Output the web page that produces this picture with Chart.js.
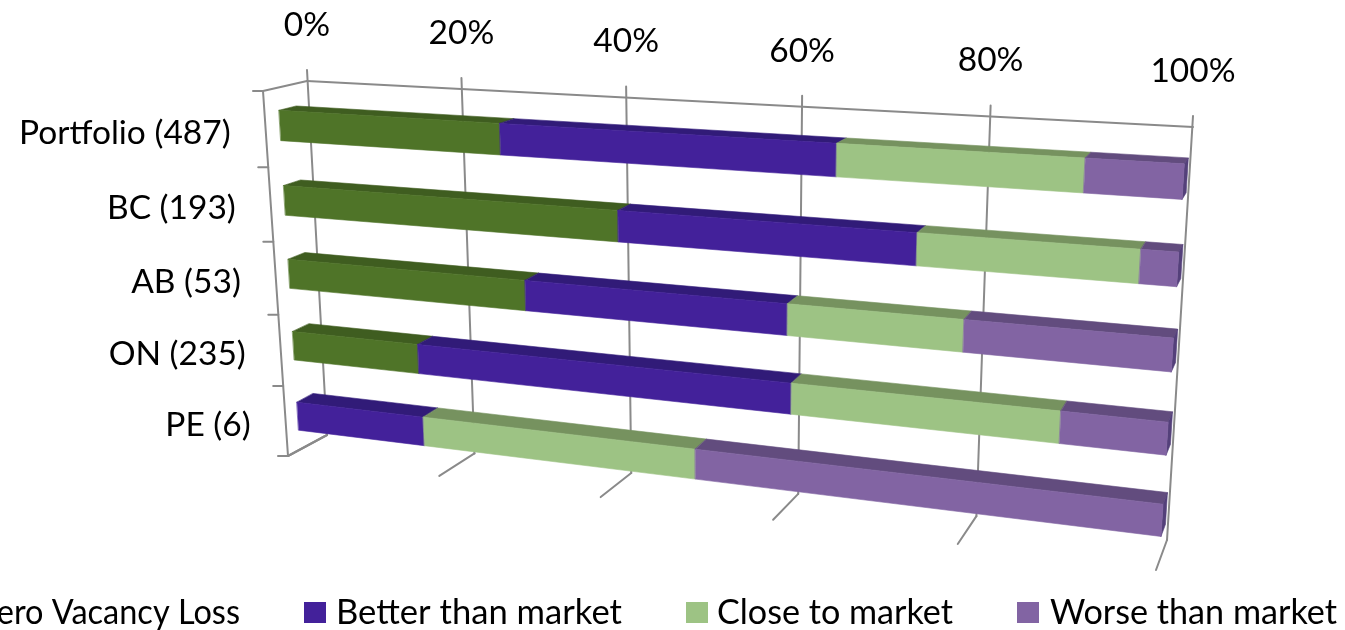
<!DOCTYPE html>
<html>
<head>
<meta charset="utf-8">
<style>html,body{margin:0;padding:0;background:#fff;overflow:hidden}canvas{display:block}</style>
<script src="https://cdn.jsdelivr.net/npm/chart.js@4/dist/chart.umd.min.js"></script>
</head>
<body>
<canvas id="c" width="1345" height="630"></canvas>
<script>
const categories = ["Portfolio (487)", "BC (193)", "AB (53)", "ON (235)", "PE (6)"];
const zeroVacancyLoss = [27.6, 41.3, 30.1, 16.4, 0];
const betterThanMarket = [37.9, 32.8, 30.3, 44.5, 16.7];
const closeToMarket = [25.1, 22.3, 18.8, 28.5, 33.3];
const worseThanMarket = [9.4, 3.6, 20.8, 10.6, 50];
const xTicks = [0, 20, 40, 60, 80, 100];

const AXIS_FONT = '33.5px Lato, "Open Sans", sans-serif';
const LEGEND_FONT = '34.7px Lato, "Open Sans", sans-serif';
const GRID = '#8a8a8a';

// Perspective planes of the 3D box: TL, TR, BR, BL corners
function homography(q) {
  const [[x0,y0],[x1,y1],[x2,y2],[x3,y3]] = q;
  const dx1=x1-x2, dx2=x3-x2, sx=x0-x1+x2-x3, dy1=y1-y2, dy2=y3-y2, sy=y0-y1+y2-y3;
  const den=dx1*dy2-dx2*dy1;
  const g=(sx*dy2-dx2*sy)/den, h=(dx1*sy-sx*dy1)/den;
  const a=x1-x0+g*x1, b=x3-x0+h*x3, d=y1-y0+g*y1, e=y3-y0+h*y3;
  return (u,v)=>{const w=g*u+h*v+1;return [(a*u+b*v+x0)/w,(d*u+e*v+y0)/w];};
}
const barFront = homography([[277.7,87.5],[1186,137],[1159.5,560.5],[300,451]]);
const barBack  = homography([[295.2,83.5],[1190,131.5],[1164,548],[316,441.5]]);
const wallBack = homography([[307,81],[1193,127],[1167,540],[327,435]]);
const wallFront= homography([[263,91],[1184,141],[1156,570],[288,456]]);

const faces = {
  [0]: {front:'#4f7428', top:'#3f5d20'},
  [1]: {front:'#43219a', top:'#311b78'},
  [2]: {front:'#9dc384', top:'#76925f'},
  [3]: {front:'#8264a3', top:'#624c7e'}
};
const SIDE = '#54407a';

function poly(ctx, pts, fill){
  ctx.beginPath();
  pts.forEach((p,i)=> i?ctx.lineTo(p[0],p[1]):ctx.moveTo(p[0],p[1]));
  ctx.closePath();
  ctx.fillStyle=fill; ctx.fill();
  ctx.strokeStyle=fill; ctx.lineWidth=0.6; ctx.stroke();
}
function line(ctx,a,b){
  ctx.beginPath();ctx.moveTo(a[0],a[1]);ctx.lineTo(b[0],b[1]);ctx.stroke();
}

const box3d = {
  id:'box3d',
  beforeDatasetsDraw(chart){
    const ctx=chart.ctx, area=chart.chartArea, xs=chart.scales.x, ys=chart.scales.y;
    const U=px=>(px-area.left)/(area.right-area.left);
    const V=py=>(py-area.top)/(area.bottom-area.top);
    ctx.save();
    // axes and grid
    ctx.strokeStyle=GRID; ctx.lineWidth=2; ctx.lineCap='round';
    ctx.font=AXIS_FONT; ctx.fillStyle='#000'; ctx.textBaseline='middle';
    const tl=wallBack(0,0), tf=wallFront(0,0), bl=wallBack(0,1), bf=wallFront(0,1);
    line(ctx,tl,wallBack(1,0));
    line(ctx,tl,tf);
    line(ctx,tf,bf);
    line(ctx,bl,bf);
    xTicks.forEach(t=>{
      const u=U(xs.getPixelForValue(t));
      const top=wallBack(u,0), bot=wallBack(u,1), fr=wallFront(u,1);
      line(ctx,[top[0],top[1]-11],bot);
      line(ctx,bot,fr);
      ctx.textAlign='center';
      ctx.fillText(t+'%',top[0],top[1]-56);
    });
    const band=(ys.getPixelForValue(1)-ys.getPixelForValue(0));
    for(let i=0;i<=categories.length;i++){
      const p=wallFront(0,V(ys.getPixelForValue(0)+(i-0.5)*band));
      line(ctx,[p[0]-10,p[1]],p);
    }
    categories.forEach((c,i)=>{
      const p=wallFront(0,V(ys.getPixelForValue(i)));
      ctx.textAlign='right';
      ctx.fillText(c,p[0]-35,p[1]+3.5);
    });
    // bars
    chart.data.datasets.forEach((ds,di)=>{
      const meta=chart.getDatasetMeta(di);
      meta.data.forEach((el,i)=>{
        if(!ds.data[i]) return;
        const {x,y,base,height}=el.getProps(['x','y','base','height'],true);
        const u0=U(base),u1=U(x),v0=V(y-height/2),v1=V(y+height/2);
        const c=faces[di];
        poly(ctx,[barFront(u0,v0),barFront(u1,v0),barBack(u1,v0),barBack(u0,v0)],c.top);
        if(di===chart.data.datasets.length-1){
          poly(ctx,[barFront(u1,v0),barBack(u1,v0),barBack(u1,v1),barFront(u1,v1)],SIDE);
        }
        poly(ctx,[barFront(u0,v0),barFront(u1,v0),barFront(u1,v1),barFront(u0,v1)],c.front);
      });
    });
    // legend
    const swatchX=[-30,304,686,1017];
    const textEnd=[240,622,953,1337];
    const textFit=[262,286,236,287];
    ctx.font=LEGEND_FONT;
    chart.data.datasets.forEach((ds,di)=>{
      ctx.fillStyle=faces[di].front;
      ctx.fillRect(swatchX[di],602,22,21);
      ctx.fillStyle='#000';
      ctx.textAlign='right';
      ctx.fillText(ds.label,textEnd[di],613,textFit[di]);
    });
    ctx.restore();
    return false;
  }
};

new Chart(document.getElementById('c'),{
  type:'bar',
  data:{labels:categories,datasets:[
    {label:'Zero Vacancy Loss',data:zeroVacancyLoss,backgroundColor:faces[0].front,barPercentage:0.4,categoryPercentage:1},
    {label:'Better than market',data:betterThanMarket,backgroundColor:faces[1].front,barPercentage:0.4,categoryPercentage:1},
    {label:'Close to market',data:closeToMarket,backgroundColor:faces[2].front,barPercentage:0.4,categoryPercentage:1},
    {label:'Worse than market',data:worseThanMarket,backgroundColor:faces[3].front,barPercentage:0.4,categoryPercentage:1}
  ]},
  options:{
    indexAxis:'y',responsive:false,animation:false,events:[],
    layout:{padding:0},
    plugins:{legend:{display:false},tooltip:{enabled:false},title:{display:false}},
    scales:{
      x:{stacked:true,min:0,max:100,display:false,position:'top'},
      y:{stacked:true,display:false}
    }
  },
  plugins:[box3d]
});
</script>
</body>
</html>
